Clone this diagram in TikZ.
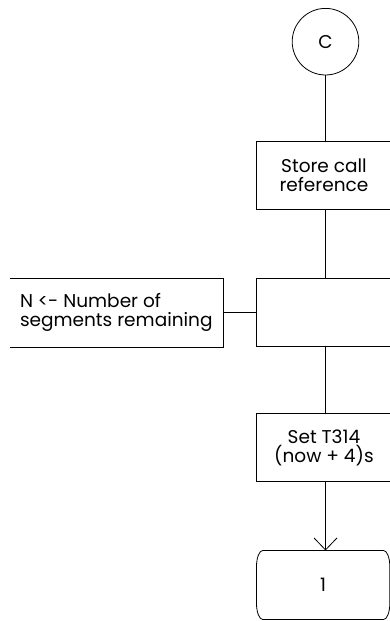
\documentclass[tikz,border=0pt]{standalone}
\usepackage{fontspec}
\setmainfont{Poppins}
\usetikzlibrary{arrows.meta}
\newcommand{\dfont}{\fontsize{18.5pt}{19pt}\selectfont}
\tikzset{
  ln/.style={line width=0.8pt},
  box/.style={draw, line width=0.8pt, minimum width=134.5pt, minimum height=68pt, inner sep=0pt, align=center, font=\dfont},
  conn/.style={draw, circle, line width=0.8pt, minimum size=66.6pt, inner sep=0pt, font=\dfont},
  frame/.style={minimum width=212.7pt, minimum height=69pt, inner sep=0pt},
  txt/.style={inner sep=0pt, align=left, font=\dfont},
}
\begin{document}
\begin{tikzpicture}[x=1pt,y=1pt]
\useasboundingbox (0,0) rectangle (390,621);
\node[conn] (c) at (325.5,579.3) {C};
\node[box] (store) at (323.95,445.5) {Store call\\reference};
\node[box] (mid) at (323.95,308.2) {};
\node[frame] (cm) at (116.35,308.2) {};
\node[txt, anchor=west] (cmtxt) at ([xshift=10pt]cm.west) {N <- Number of\\segments remaining};
\node[box] (set) at (323.95,173.5) {Set T314\\(now + 4)s};
\node[minimum width=132.9pt, minimum height=68.6pt, inner sep=0pt, font=\dfont] (term) at (323.15,36) {1};
\draw[ln] ([xshift=6.3pt]term.north west) -- ([xshift=-6.3pt]term.north east)
  arc[start angle=90,end angle=0,x radius=6.3pt,y radius=16pt]
  -- ([yshift=16pt]term.south east)
  arc[start angle=0,end angle=-90,x radius=6.3pt,y radius=16pt]
  -- ([xshift=6.3pt]term.south west)
  arc[start angle=270,end angle=180,x radius=6.3pt,y radius=16pt]
  -- ([yshift=-16pt]term.north west)
  arc[start angle=180,end angle=90,x radius=6.3pt,y radius=16pt] -- cycle;
\draw[ln] (cm.north west) -- (cm.north east) -- (cm.south east) -- (cm.south west);
\draw[ln] (c.south) -- (c.south |- store.north);
\draw[ln] (store.south -| c) -- (mid.north -| c);
\draw[ln] (mid.south -| c) -- (set.north -| c);
\draw[ln] (cm.east) -- (mid.west);
\draw[ln, -{Straight Barb[length=12pt,width=23pt]}] (set.south -| c) -- (term.north -| c);
\end{tikzpicture}
\end{document}
